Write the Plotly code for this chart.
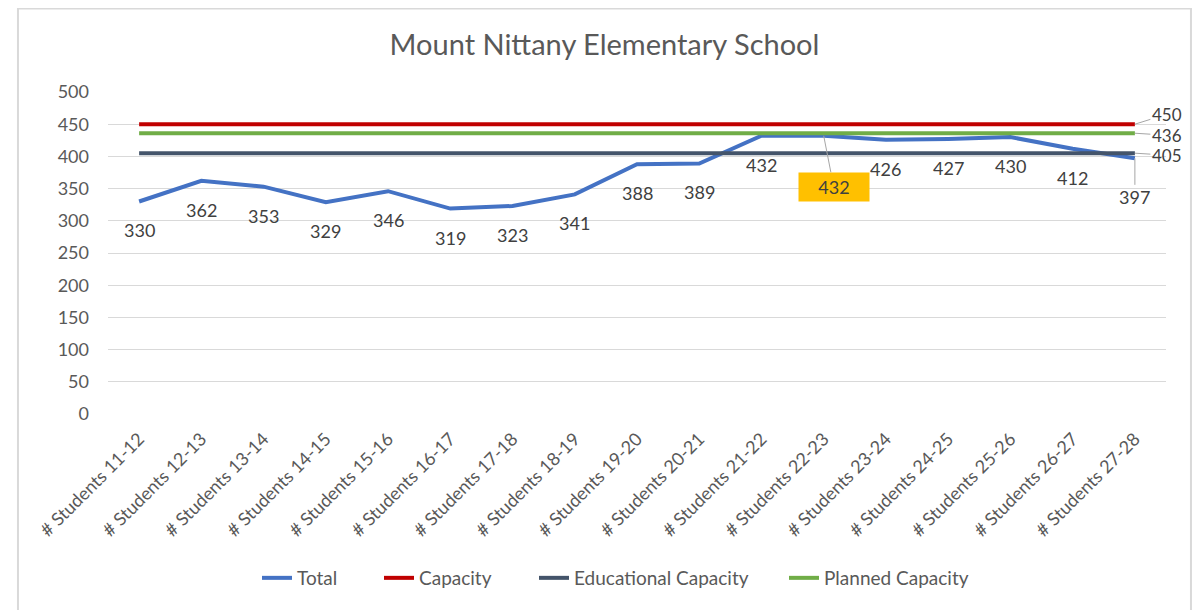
import plotly.graph_objects as go

# Dati
categories = ['# Students 11-12', '# Students 12-13', '# Students 13-14', '# Students 14-15',
              '# Students 15-16', '# Students 16-17', '# Students 17-18', '# Students 18-19',
              '# Students 19-20', '# Students 20-21', '# Students 21-22', '# Students 22-23',
              '# Students 23-24', '# Students 24-25', '# Students 25-26', '# Students 26-27',
              '# Students 27-28']
total = [330, 362, 353, 329, 346, 319, 323, 341, 388, 389, 432, 432, 426, 427, 430, 412, 397]
capacity = [450] * len(categories)
educational_capacity = [405] * len(categories)
planned_capacity = [436] * len(categories)

FONT = 'Lato'
GREY = '#595959'
LABEL = '#404040'

fig = go.Figure()

# Serie: Total sotto, poi le linee di capacità (una legenda per voce, per la spaziatura)
series = [
    ('Total', total, '#4472C4', 'legend', 267),
    ('Capacity', capacity, '#C00000', 'legend2', 389),
    ('Educational Capacity', educational_capacity, '#44546A', 'legend3', 544),
    ('Planned Capacity', planned_capacity, '#70AD47', 'legend4', 794),
]
for name, values, color, leg, _ in series:
    fig.add_trace(go.Scatter(
        x=categories, y=values, name=name, mode='lines',
        line=dict(color=color, width=4), legend=leg,
        hoverinfo='skip'
    ))

# Etichette dati della serie Total (sotto i punti)
for i, (cat, val) in enumerate(zip(categories, total)):
    if i == 11:
        # etichetta spostata in un riquadro arancione con linea guida
        fig.add_annotation(
            x=cat, y=val, text=str(val), showarrow=True, arrowhead=0,
            arrowcolor='#A6A6A6', arrowwidth=1, ax=10, ay=51,
            bgcolor='#FFC000', width=64, height=22, borderpad=3,
            font=dict(family=FONT, size=18, color=LABEL)
        )
    elif i == len(total) - 1:
        fig.add_annotation(
            x=cat, y=val, text=str(val), showarrow=True, arrowhead=0,
            arrowcolor='#A6A6A6', arrowwidth=1, ax=0, ay=39,
            font=dict(family=FONT, size=18, color=LABEL)
        )
    else:
        fig.add_annotation(
            x=cat, y=val, text=str(val), showarrow=False, yshift=-29,
            font=dict(family=FONT, size=18, color=LABEL)
        )

# Etichette a destra per le linee costanti
for values, ay in [(capacity, -10), (planned_capacity, 2), (educational_capacity, 2)]:
    fig.add_annotation(
        x=categories[-1], y=values[-1], text=str(values[-1]), showarrow=True,
        arrowhead=0, arrowcolor='#A6A6A6', arrowwidth=1, ax=32, ay=ay,
        font=dict(family=FONT, size=17, color=LABEL)
    )

# Bordo del grafico
fig.add_shape(
    type='rect', xref='paper', yref='paper',
    x0=-0.0851, x1=1.0236, y0=-0.7, y1=1.259,
    line=dict(color='#D9D9D9', width=2), fillcolor='rgba(0,0,0,0)', layer='below'
)

legend_style = dict(orientation='h', xref='container', yref='container',
                    y=1 - 570 / 610, xanchor='left', yanchor='middle',
                    font=dict(family=FONT, size=19, color=GREY), itemwidth=30,
                    bgcolor='rgba(0,0,0,0)')
legends = {}
for _, _, _, leg, xpos in series:
    legends[leg] = dict(legend_style, x=(xpos - 8 - 10) / 1204)

fig.update_layout(
    width=1204, height=610, autosize=False,
    margin=dict(l=100, r=46, t=84, b=204),
    paper_bgcolor='white', plot_bgcolor='white',
    font=dict(family=FONT, color=GREY, size=18),
    title=dict(text='Mount Nittany Elementary School', x=596.5 / 1204, xref='container',
               y=1 - 37 / 610, yref='container', xanchor='center', yanchor='middle',
               font=dict(family=FONT, size=29, color=GREY)),
    showlegend=True,
    **legends
)
fig.update_xaxes(
    type='category', range=[-0.5, len(categories) - 0.5], tickangle=-45,
    showgrid=False, showline=False, ticks='', ticklabelstandoff=10,
    tickfont=dict(family=FONT, size=18, color=GREY)
)
fig.update_yaxes(
    range=[0, 500], dtick=50, showgrid=True, gridcolor='#D9D9D9', gridwidth=1,
    zeroline=False, showline=False, ticks='', ticklabelstandoff=18,
    tickfont=dict(family=FONT, size=18, color=GREY)
)

fig.write_html("out.html")
